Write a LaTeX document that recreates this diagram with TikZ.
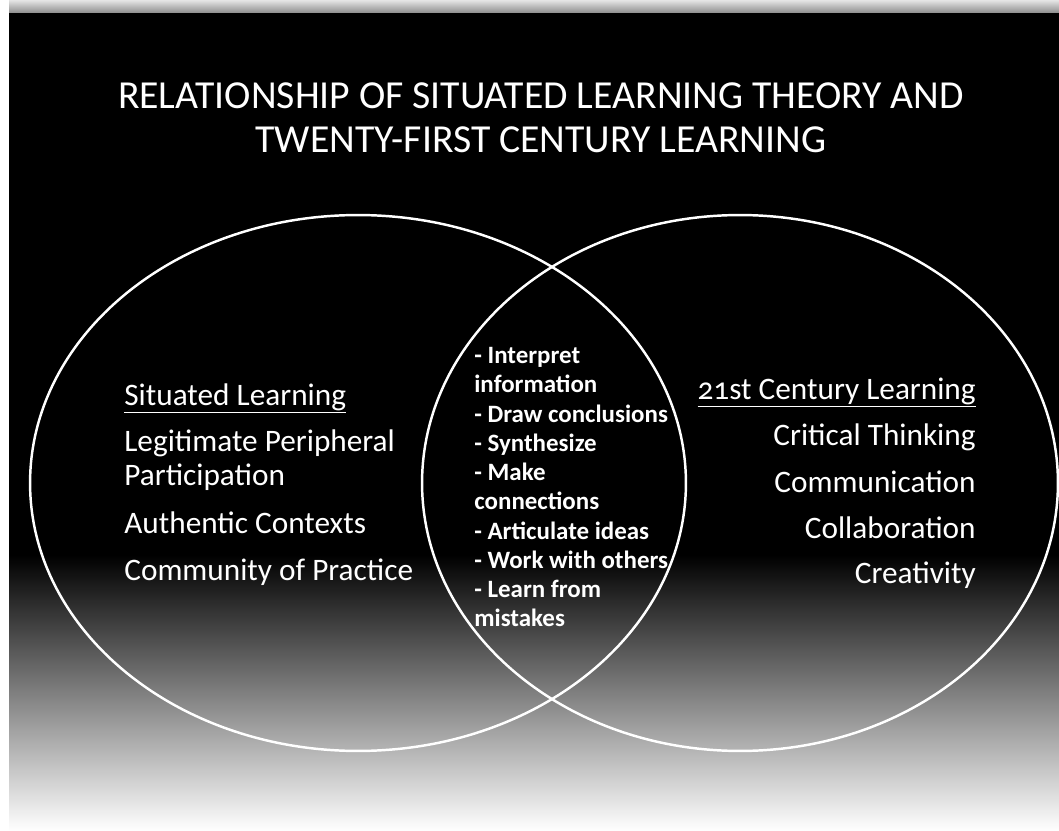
\documentclass[tikz,border=0pt]{standalone}
\usepackage{fontspec}
\setmainfont{Carlito}
\usetikzlibrary{shapes.geometric}
\tikzset{%
    venn/.style={
      ellipse,
      draw=white,
      line width=1.4pt,
      minimum height=10.72cm
    },
    headline/.style={
      text=white,
      inner sep=0pt,
      anchor=base,
      font=\fontsize{22.6}{26}\selectfont
    },
    item/.style={
      text=white,
      inner sep=0pt,
      font=\fontsize{17.8}{21}\selectfont
    },
    overlap/.style={
      text=white,
      inner sep=0pt,
      align=left,
      anchor=north west,
      font=\bfseries\fontsize{14.2}{16.65}\selectfont
    }
  }

\begin{document}
\begin{tikzpicture}[x=0.02cm, y=-0.02cm]
      \useasboundingbox (0,0) rectangle (1059,831);
      % slide background
      \fill[white] (0,0) rectangle (1059,831);
      \shade[top color=white!90!black, bottom color=white!55!black] (9,0) rectangle (1059,13);
      \fill[black] (9,13) rectangle (1059,556);
      \shade[top color=black, middle color=white!55!black, bottom color=white] (9,555) rectangle (1059,831);

      \node [headline] (title1) at (541,109) {RELATIONSHIP OF SITUATED LEARNING THEORY AND};
      \node [headline] (title2) at (541,153) {TWENTY-FIRST CENTURY LEARNING};

      \node [venn, minimum width=13.12cm] (sl) at (358,483) {};
      \node [venn, minimum width=12.72cm] (cl) at (740,483) {};

      \node [item, anchor=base west] (slhead) at (124,405) {\underline{Situated Learning}};
      \node [item, anchor=base west] (lpp1) at (124,452) {Legitimate Peripheral};
      \node [item, anchor=base west] (lpp2) at (124,485) {Participation};
      \node [item, anchor=base west] (ac) at (124,533) {Authentic Contexts};
      \node [item, anchor=base west] (cop) at (124,580) {Community of Practice};

      \node [item, anchor=base east] (clhead) at (976,399) {\underline{{\addfontfeature{Numbers=OldStyle}21}st Century Learning}};
      \node [item, anchor=base east] (ct) at (976,445) {Critical Thinking};
      \node [item, anchor=base east] (comm) at (976,492) {Communication};
      \node [item, anchor=base east] (coll) at (976,538) {Collaboration};
      \node [item, anchor=base east] (crea) at (976,583) {Creativity};

      \node [overlap] (both) at (474,347) {- Interpret\\information\\- Draw conclusions\\- Synthesize\\- Make\\connections\\- Articulate ideas\\- Work with others\\- Learn from\\mistakes};

    \end{tikzpicture}
\end{document}
